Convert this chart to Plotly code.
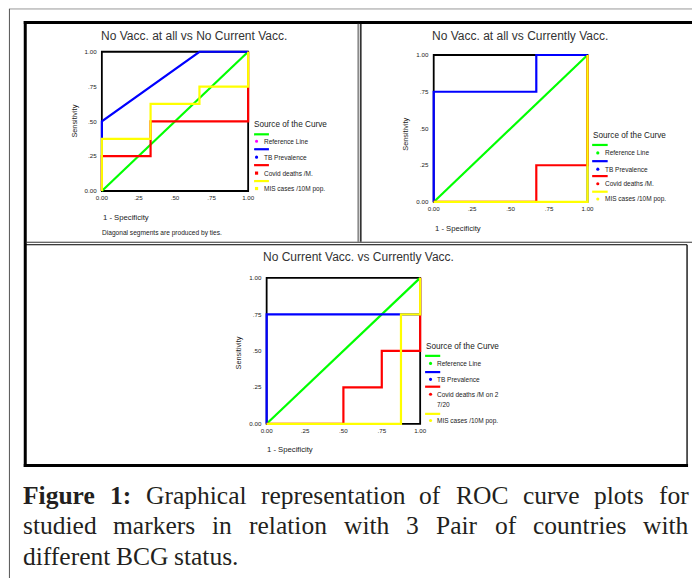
import plotly.graph_objects as go

W, H = 696, 579

# ---------------- data ----------------
ref_fpr = [0, 1]
ref_tpr = [0, 1]

# Panel 1: No Vacc. at all vs No Current Vacc.
p1_tb_fpr = [0, 0, 0.667, 1]
p1_tb_tpr = [0, 0.5, 1, 1]
p1_covid_fpr = [0, 0, 0.333, 0.333, 1, 1]
p1_covid_tpr = [0, 0.25, 0.25, 0.5, 0.5, 1]
p1_mis_fpr = [0, 0, 0.333, 0.333, 0.667, 0.667, 1, 1]
p1_mis_tpr = [0, 0.375, 0.375, 0.625, 0.625, 0.75, 0.75, 1]

# Panel 2: No Vacc. at all vs Currently Vacc.
p2_tb_fpr = [0, 0, 0.667, 0.667, 1]
p2_tb_tpr = [0, 0.75, 0.75, 1, 1]
p2_covid_fpr = [0, 0.667, 0.667, 1, 1]
p2_covid_tpr = [0, 0, 0.25, 0.25, 1]
p2_mis_fpr = [0, 1, 1]
p2_mis_tpr = [0, 0, 1]

# Panel 3: No Current Vacc. vs Currently Vacc.
p3_tb_fpr = [0, 0, 1, 1]
p3_tb_tpr = [0, 0.75, 0.75, 1]
p3_covid_fpr = [0, 0.5, 0.5, 0.75, 0.75, 1, 1]
p3_covid_tpr = [0, 0, 0.25, 0.25, 0.5, 0.5, 1]
p3_mis_fpr = [0, 0.875, 0.875, 1, 1]
p3_mis_tpr = [0, 0, 0.75, 0.75, 1]

tick_vals = [0, 0.25, 0.5, 0.75, 1]
tick_text = ["0.00", ".25", ".50", ".75", "1.00"]

titles = ["No Vacc. at all vs No Current Vacc.",
          "No Vacc. at all vs Currently Vacc.",
          "No Current Vacc. vs Currently Vacc."]
series_names = ["Reference Line", "TB Prevalence", "Covid deaths /M.", "MIS cases /10M pop."]
series_colors = ["#00ff00", "#0000ff", "#ff0000", "#ffff00"]
x_title = "1 - Specificity"
y_title = "Sensitivity"
legend_title = "Source of the Curve"
footnote = "Diagonal segments are produced by ties."

caption_lines = [
    "Figure 1: Graphical representation of ROC curve plots for",
    "studied markers in relation with 3 Pair of countries with",
    "different BCG status.",
]
caption_bold_words = 2  # "Figure 1:" is bold
caption_y = [496, 526, 557]

# ---------------- helpers ----------------
def X(px):
    return px / W

def Y(py):
    return 1 - py / H

PAD = 0.015
SANS = "Liberation Sans"
SERIF = "Liberation Serif"
CAP_SIZE = 25.5
CAP_LEFT, CAP_RIGHT = 18, 691

# Times / Liberation Serif advance widths (1/1000 em) for text layout
TW_REG = {' ': 250, 'a': 444, 'b': 500, 'c': 444, 'd': 500, 'e': 444, 'f': 333, 'g': 500,
          'h': 500, 'i': 278, 'k': 500, 'l': 278, 'm': 778, 'n': 500, 'o': 500, 'p': 500,
          'r': 333, 's': 389, 't': 278, 'u': 500, 'v': 500, 'w': 722, 'B': 667, 'C': 667,
          'G': 722, 'O': 722, 'P': 556, 'R': 667, 'S': 556, 'F': 556, '3': 500, '1': 500,
          '.': 250, ':': 278}
TW_BOLD = {'F': 611, 'i': 278, 'g': 500, 'u': 556, 'r': 444, 'e': 444, '1': 500, ':': 333}

def word_w(word, bold):
    tbl = TW_BOLD if bold else TW_REG
    return sum(tbl.get(c, 500) for c in word) * CAP_SIZE / 1000.0

panels = [
    dict(box=(99, 247, 50, 190), data=[(ref_fpr, ref_tpr), (p1_tb_fpr, p1_tb_tpr),
                                       (p1_covid_fpr, p1_covid_tpr), (p1_mis_fpr, p1_mis_tpr)],
         title_xy=(192, 34), ytitle_xy=(71, 120), xtitle_xy=(98, 217),
         leg_title=(251, 123), leg_line=(253, 268), leg_line_y=[133, 148, 164, 180],
         leg_mark_x=255.5, leg_text_x=261, leg_text_y=[140, 156, 172, 187.5],
         mark_colors=["#ff00ff", "#0000ff", "#ff0000", "#ffff00"],
         mark_shapes=["circle", "circle", "rect", "rect"],
         labels=series_names),
    dict(box=(434.7, 590.3, 53.3, 201), data=[(ref_fpr, ref_tpr), (p2_tb_fpr, p2_tb_tpr),
                                              (p2_covid_fpr, p2_covid_tpr), (p2_mis_fpr, p2_mis_tpr)],
         title_xy=(522.5, 34.5), ytitle_xy=(406, 133), xtitle_xy=(433.5, 227.5),
         leg_title=(594, 134), leg_line=(595, 610.7), leg_line_y=[143.7, 160, 175, 190.7],
         leg_mark_x=600.7, leg_text_x=605.5, leg_text_y=[151.7, 168, 182.7, 198],
         mark_colors=["#00ff00", "#0000ff", "#ff0000", "#ffff00"],
         mark_shapes=["circle"] * 4,
         labels=series_names),
    dict(box=(265.7, 421, 277.3, 424), data=[(ref_fpr, ref_tpr), (p3_tb_fpr, p3_tb_tpr),
                                             (p3_covid_fpr, p3_covid_tpr), (p3_mis_fpr, p3_mis_tpr)],
         title_xy=(359, 256.7), ytitle_xy=(237.5, 352.5), xtitle_xy=(264.5, 450),
         leg_title=(425, 346), leg_line=(426, 441.3), leg_line_y=[355.7, 372, 386.7, 414],
         leg_mark_x=431.5, leg_text_x=436.5, leg_text_y=[363.3, 379.3, 394.3, 420.7],
         mark_colors=["#00ff00", "#0000ff", "#ff0000", "#ffff00"],
         mark_shapes=["circle"] * 4,
         labels=["Reference Line", "TB Prevalence", "Covid deaths /M on 2", "MIS cases /10M pop."]),
]

fig = go.Figure()
shapes = []
annotations = []
layout_axes = {}

for i, p in enumerate(panels):
    n = "" if i == 0 else str(i + 1)
    left, right, top, bottom = p["box"]
    wpx, hpx = right - left, bottom - top
    dom_x = [X(left - wpx * PAD), X(right + wpx * PAD)]
    dom_y = [Y(bottom + hpx * PAD), Y(top - hpx * PAD)]
    common = dict(range=[-PAD, 1 + PAD], tickvals=tick_vals, ticktext=tick_text,
                  showgrid=False, zeroline=False, showline=False, ticks="",
                  tickfont=dict(family=SANS, size=6.2, color="#1a1a1a"),
                  fixedrange=True)
    layout_axes["xaxis" + n] = dict(domain=dom_x, anchor="y" + n, ticklabelstandoff=0, **common)
    layout_axes["yaxis" + n] = dict(domain=dom_y, anchor="x" + n, ticklabelstandoff=2, **common)

    # plot frame
    shapes.append(dict(type="rect", xref="x" + n, yref="y" + n, x0=0, x1=1, y0=0, y1=1,
                       line=dict(color="black", width=1.8), layer="below"))

    for (fx, ty), col in zip(p["data"], series_colors):
        fig.add_trace(go.Scatter(x=fx, y=ty, mode="lines", line=dict(color=col, width=2.2),
                                 xaxis="x" + n, yaxis="y" + n, showlegend=False,
                                 hoverinfo="skip"))

    # titles
    tx, ty_ = p["title_xy"]
    annotations.append(dict(x=X(tx), y=Y(ty_), xref="paper", yref="paper", text=titles[i],
                            showarrow=False, xanchor="center", yanchor="middle",
                            font=dict(family=SANS, size=12, color="#333333")))
    yx, yy = p["ytitle_xy"]
    annotations.append(dict(x=X(yx), y=Y(yy), xref="paper", yref="paper", text=y_title,
                            showarrow=False, textangle=-90, xanchor="center", yanchor="middle",
                            font=dict(family=SANS, size=7.3, color="#1a1a1a")))
    xx, xy = p["xtitle_xy"]
    annotations.append(dict(x=X(xx), y=Y(xy), xref="paper", yref="paper", text=x_title,
                            showarrow=False, xanchor="left", yanchor="middle",
                            font=dict(family=SANS, size=7.7, color="#1a1a1a")))

    # legend
    lx, ly = p["leg_title"]
    annotations.append(dict(x=X(lx), y=Y(ly), xref="paper", yref="paper", text=legend_title,
                            showarrow=False, xanchor="left", yanchor="middle",
                            font=dict(family=SANS, size=8.2, color="#222222")))
    l0, l1 = p["leg_line"]
    for k in range(4):
        yl = p["leg_line_y"][k]
        shapes.append(dict(type="line", xref="paper", yref="paper", x0=X(l0), x1=X(l1),
                           y0=Y(yl), y1=Y(yl), line=dict(color=series_colors[k], width=2.2)))
        mx, myy = p["leg_mark_x"], p["leg_text_y"][k]
        r = 1.6
        shapes.append(dict(type=p["mark_shapes"][k], xref="paper", yref="paper",
                           x0=X(mx - r), x1=X(mx + r), y0=Y(myy + r), y1=Y(myy - r),
                           fillcolor=p["mark_colors"][k], line=dict(width=0)))
        annotations.append(dict(x=X(p["leg_text_x"]), y=Y(myy), xref="paper", yref="paper",
                                text=p["labels"][k], showarrow=False, xanchor="left",
                                yanchor="middle",
                                font=dict(family=SANS, size=6.5, color="#1a1a1a")))
    if i == 2:
        annotations.append(dict(x=X(p["leg_text_x"]), y=Y(404.3), xref="paper", yref="paper",
                                text="7/20", showarrow=False, xanchor="left", yanchor="middle",
                                font=dict(family=SANS, size=6.5, color="#1a1a1a")))

# footnote panel 1
annotations.append(dict(x=X(97.5), y=Y(232), xref="paper", yref="paper", text=footnote,
                        showarrow=False, xanchor="left", yanchor="middle",
                        font=dict(family=SANS, size=6.6, color="#1a1a1a")))

# ---------------- frames ----------------
def hline(y, x0, x1, color, width):
    shapes.append(dict(type="line", xref="paper", yref="paper", x0=X(x0), x1=X(x1),
                       y0=Y(y), y1=Y(y), line=dict(color=color, width=width)))

def vline(x, y0, y1, color, width):
    shapes.append(dict(type="line", xref="paper", yref="paper", x0=X(x), x1=X(x),
                       y0=Y(y0), y1=Y(y1), line=dict(color=color, width=width)))

hline(7, 5, 696, "#999999", 1)
vline(5.5, 7, 579, "#555555", 1)
hline(20.5, 20, 696, "black", 3)
vline(21.5, 19, 467.5, "black", 3)
vline(358.5, 22, 241, "#8a8a8a", 2)
vline(361, 22, 241, "black", 1.3)
hline(241.5, 22, 696, "#333333", 1)
hline(244, 22, 691, "black", 1)
vline(691, 244, 467, "black", 1.3)
hline(466, 20, 692, "black", 3)

# ---------------- caption (justified) ----------------
for li, (line, yc) in enumerate(zip(caption_lines, caption_y)):
    words = line.split(" ")
    bolds = [li == 0 and wi < caption_bold_words for wi in range(len(words))]
    widths = [word_w(w, b) for w, b in zip(words, bolds)]
    last = li == len(caption_lines) - 1
    if last or len(words) == 1:
        gap = TW_REG[' '] * CAP_SIZE / 1000.0
    else:
        gap = (CAP_RIGHT - CAP_LEFT - sum(widths)) / (len(words) - 1)
    xcur = CAP_LEFT
    for w, b, wd in zip(words, bolds, widths):
        annotations.append(dict(x=X(xcur - 1), y=Y(yc), xref="paper", yref="paper",
                                text=("<b>%s</b>" % w) if b else w,
                                showarrow=False, xanchor="left", yanchor="middle",
                                font=dict(family=SERIF, size=CAP_SIZE, color="#231f20")))
        xcur += wd + gap

fig.update_layout(width=W, height=H, margin=dict(l=0, r=0, t=0, b=0),
                  paper_bgcolor="white", plot_bgcolor="white",
                  shapes=shapes, annotations=annotations, **layout_axes)

fig.write_html("out.html", config={"displayModeBar": False},
               post_script="document.body.style.margin='0';document.body.style.overflow='hidden';")
